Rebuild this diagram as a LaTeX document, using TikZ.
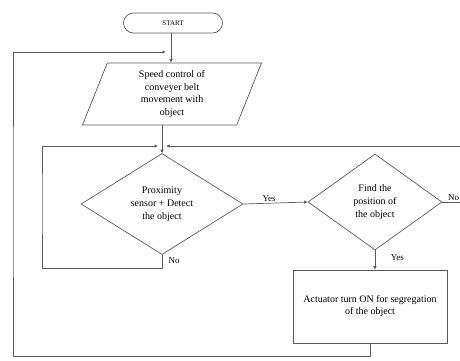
\documentclass[tikz,border=0pt]{standalone}
\usepackage{fontspec}
\setmainfont{Liberation Serif}
\usetikzlibrary{arrows.meta, positioning, shapes.geometric}
\definecolor{fcline}{HTML}{5A5A5A}
\begin{document}
\begin{tikzpicture}[x=1pt, y=-1pt,
  line/.style={draw=fcline, line width=0.7pt},
  arr/.style={line, -{Latex[length=3.5pt,width=3.5pt]}},
  terminal/.style={line, rectangle, rounded corners=10pt, minimum width=99pt, minimum height=20pt, font=\fontsize{7}{8}\selectfont},
  io/.style={line, trapezium, trapezium left angle=63, trapezium right angle=117, trapezium stretches body, minimum width=179pt, minimum height=62pt, inner sep=1pt, align=center, font=\fontsize{10}{12.5}\selectfont},
  decision/.style={line, diamond, inner sep=1pt, align=center, font=\fontsize{10}{13}\selectfont},
  process/.style={line, rectangle, minimum width=154pt, minimum height=73pt, align=center, font=\fontsize{10}{12}\selectfont},
  lbl/.style={font=\fontsize{9}{10}\selectfont, inner sep=1.5pt}
]
\useasboundingbox (0,0) rectangle (460,360);
\clip (0,0) rectangle (460,360);
% Blocks
\node[terminal] (start) at (173,23) {START};
\node[io] (speed) at (172,94) {Speed control of\\conveyer belt\\movement with\\object};
\node[decision, minimum width=162pt, minimum height=92pt] (prox) at (162,204) {Proximity\\sensor + Detect\\the object};
\node[decision, minimum width=134pt, minimum height=96pt] (find) at (375,202) {Find the\\position of\\the object};
\node[process] (act) at (370,306.5) {Actuator turn ON for segregation\\of the object};
% Junctions
\coordinate (top) at (171,52);
\coordinate (join) at (162,146);
% Main flow
\draw[arr] (top |- start.south) -- (top |- speed.north);
\draw[arr] (prox.north |- speed.south) -- (prox.north);
\draw[arr] (prox.east) -- (find.west) node[lbl, above, pos=0.4] {Yes};
\draw[arr] (find.south) -- (find.south |- act.north) node[lbl, pos=0.4, right=14pt] {Yes};
% Loops back
\draw[arr, shorten >=4pt] (prox.south) -- ++(0,13) -| (42,200) |- (join);
\node[lbl, right=5pt] (nolbl) at ([yshift=-6pt]prox.south) {No};
\draw[arr, shorten >=4pt] (find.east) -- ++(40,0) |- (join);
\node[lbl, above right=0pt and 4pt] (nofind) at (find.east) {No};
\draw[arr, shorten >=5pt] (act.south) -- ++(0,13) -| (13,200) |- (top);
\end{tikzpicture}
\end{document}
